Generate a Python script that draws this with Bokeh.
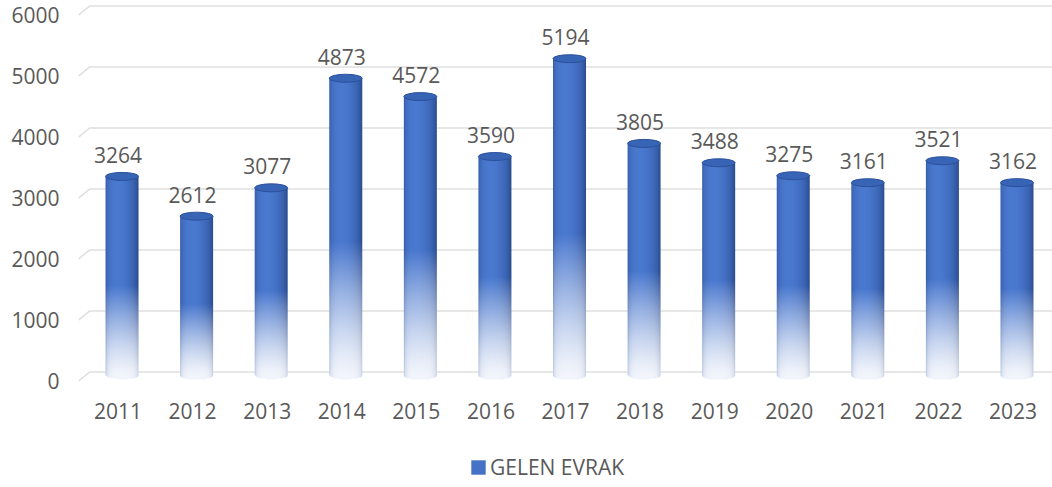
import numpy as np
from bokeh.plotting import figure
from bokeh.layouts import column
from bokeh.models import FixedTicker, Range1d, Legend, LegendItem, ColumnDataSource
from bokeh.core.properties import value
from bokeh.embed import file_html
from bokeh.resources import INLINE

# ---- data ----
years = ["2011", "2012", "2013", "2014", "2015", "2016", "2017",
         "2018", "2019", "2020", "2021", "2022", "2023"]
counts = [3264, 2612, 3077, 4873, 4572, 3590, 5194, 3805, 3488, 3275, 3161, 3521, 3162]
y_ticks = [0, 1000, 2000, 3000, 4000, 5000, 6000]
series_name = "GELEN EVRAK"

# ---- geometry / style (not data) ----
FONT = value("Open Sans")
TXT = "#595959"
FS = "21px"
X0, X1 = -0.53, 12.53
Y0, Y1 = -90, 6238
PX_X = 974 / (X1 - X0)          # px per category unit
PX_Y = 386 / (Y1 - Y0)          # px per value unit
bar_w = 33 / PX_X
bar_off = 4 / PX_X              # 3-D depth shift of bars
base_d = 5.5 / PX_Y             # bars sit slightly behind front plane
cap_e = 4.0 / PX_Y              # half height of elliptic caps
grid_dx = 11 / PX_X
grid_dy = 9 / PX_Y

p = figure(width=1052, height=440, x_range=Range1d(X0, X1), y_range=Range1d(Y0, Y1),
           output_backend="svg", toolbar_location=None,
           min_border_left=78, min_border_right=0, min_border_top=0, min_border_bottom=54)
p.outline_line_color = None
p.background_fill_color = "white"
p.xgrid.visible = False
p.ygrid.visible = False

# 3-D style gridlines
p.multi_line(xs=[[X0, X0 + grid_dx, X1] for t in y_ticks],
             ys=[[t, t + grid_dy, t + grid_dy] for t in y_ticks],
             line_color="#E0E0E0", line_width=1.6)

dark = np.array([28, 55, 115], dtype=float)
light = np.array([74, 121, 208], dtype=float)


def bar_image(v):
    dh = v + cap_e
    R = max(8, int(round(dh * PX_Y * 2)))
    C = 66
    yy = -cap_e + (np.arange(R) + 0.5) / R * dh        # relative to base
    uu = (np.arange(C) + 0.5) / C
    t = 2 * uu - 1
    s = np.sqrt(np.clip(1 - t ** 2, 0, 1))
    ang = np.arcsin(np.clip(t, -1, 1))
    lum = 0.33 + 0.67 * np.clip(np.cos(ang + 0.3), 0, 1)
    col = dark[None, :] * (1 - lum[:, None]) + light[None, :] * lum[:, None]
    f = np.clip(yy / v, 0, 1)
    a = np.where(f >= 0.45, 1.0, 0.07 + 0.93 * (f / 0.45) ** 1.3)
    A = a[:, None] + (1 - a[:, None]) * 0.35 * (1 - s[None, :]) ** 2
    rgb = 255 * (1 - A[:, :, None]) + col[None, :, :] * A[:, :, None]
    inside = np.ones((R, C), dtype=bool)
    below = yy < 0
    inside[below, :] = (t[None, :] ** 2 + (yy[below, None] / cap_e) ** 2) <= 1
    img = np.zeros((R, C), dtype=np.uint32)
    view = img.view(dtype=np.uint8).reshape((R, C, 4))
    view[:, :, 0] = rgb[:, :, 0].astype(np.uint8)
    view[:, :, 1] = rgb[:, :, 1].astype(np.uint8)
    view[:, :, 2] = rgb[:, :, 2].astype(np.uint8)
    view[:, :, 3] = np.where(inside, 255, 0).astype(np.uint8)
    return img


for i, v in enumerate(counts):
    p.image_rgba(image=[bar_image(v)], x=i + bar_off - bar_w / 2, y=base_d - cap_e,
                 dw=bar_w, dh=v + cap_e)

p.ellipse(x=[i + bar_off for i in range(len(counts))], y=[v + base_d for v in counts],
          width=bar_w, height=2 * cap_e, fill_color="#3864B6", line_color="#2C519B",
          line_width=1)

p.text(x=list(range(len(counts))), y=counts, text=[str(c) for c in counts],
       text_align="center", text_baseline="middle", y_offset=-27,
       text_font=FONT, text_font_size=FS, text_color=TXT)

# axes
p.yaxis.ticker = FixedTicker(ticks=y_ticks)
p.xaxis.ticker = FixedTicker(ticks=list(range(len(years))))
p.xaxis.major_label_overrides = {i: y for i, y in enumerate(years)}
for ax in (p.xaxis[0], p.yaxis[0]):
    ax.axis_line_color = None
    ax.major_tick_line_color = None
    ax.minor_tick_line_color = None
    ax.major_tick_out = 0
    ax.major_tick_in = 0
    ax.major_label_text_font = "Open Sans"
    ax.major_label_text_font_size = FS
    ax.major_label_text_color = TXT
p.yaxis.major_label_standoff = 19
p.xaxis.major_label_standoff = 16

# legend in a small strip figure below the chart
pl = figure(width=1052, height=47, x_range=Range1d(0, 1), y_range=Range1d(0, 1),
            output_backend="svg", toolbar_location=None,
            min_border_left=0, min_border_right=0, min_border_top=0, min_border_bottom=0)
pl.axis.visible = False
pl.grid.visible = False
pl.outline_line_color = None
lsrc = ColumnDataSource(dict(x=[-5], y=[-5]))
lr = pl.rect(x="x", y="y", width=0.1, height=0.1, source=lsrc,
             fill_color="#4472C4", line_color=None)
legend = Legend(items=[LegendItem(label=series_name, renderers=[lr])],
                location=(391, 6), orientation="horizontal",
                glyph_width=18, glyph_height=18, label_standoff=3,
                padding=0, margin=0, border_line_color=None,
                background_fill_alpha=0,
                label_text_font="Open Sans", label_text_font_size="21px",
                label_text_color=TXT)
pl.add_layout(legend)

layout = column(p, pl, spacing=0)
open("out.html", "w").write(file_html(layout, INLINE))
